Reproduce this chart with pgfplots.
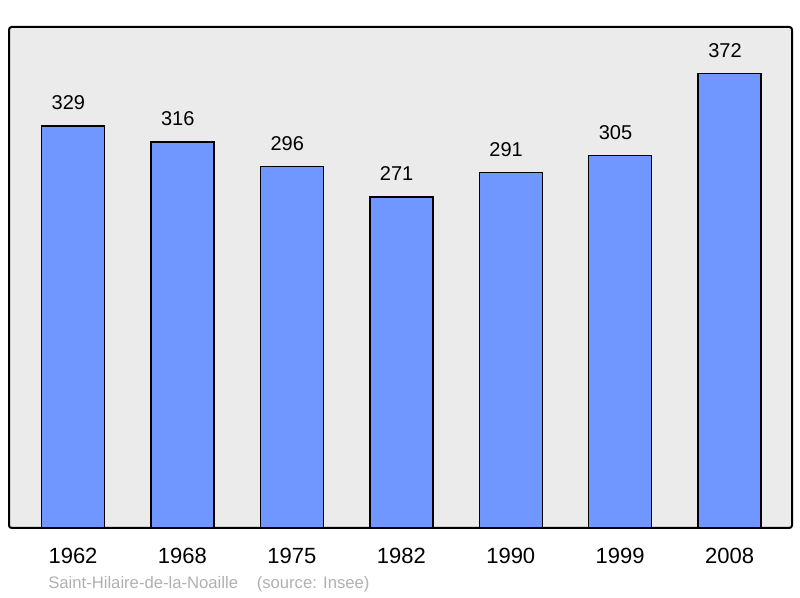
\documentclass[border=0pt]{standalone}
\usepackage{pgfplots}
\pgfplotsset{compat=1.18}
\usepackage{fontspec}
\setmainfont{Liberation Sans}
\definecolor{barblue}{RGB}{112,151,255}
\definecolor{bggray}{RGB}{235,235,235}
\definecolor{srcgray}{RGB}{176,176,176}
\begin{document}
\begin{tikzpicture}
\path[use as bounding box] (0,0) rectangle (600pt,448.5pt);
\begin{axis}[
    at={(6.75pt,52.5pt)}, anchor=south west,
    scale only axis,
    width=587.25pt, height=375.75pt,
    xmin=-0.585, xmax=6.57,
    ymin=0, ymax=410,
    ybar, bar width=47.25pt,
    xtick=data,
    xticklabels={1962,1968,1975,1982,1990,1999,2008},
    ytick=\empty,
    major tick length=0pt,
    xticklabel style={anchor=center, yshift=-21pt, font=\fontsize{16.5}{18}\selectfont},
    /pgf/number format/assume math mode=true,
    axis background/.style={fill=bggray},
    axis line style={line width=1.5pt, rounded corners=2pt},
    nodes near coords,
    every node near coord/.append style={anchor=center, xshift=-3.5pt, yshift=17.25pt, font=\fontsize{15}{17}\selectfont, text=black},
]
\addplot[fill=barblue, draw=black, line width=1.1pt] coordinates {
    (0,329) (1,316) (2,296) (3,271) (4,291) (5,305) (6,372)};
\end{axis}
\node[anchor=west, inner sep=0pt, text=srcgray, font=\fontsize{12.5}{14}\selectfont] at (36pt,10.5pt) {Saint-Hilaire-de-la-Noaille\hspace{14pt}(source: Insee)};
\end{tikzpicture}
\end{document}
